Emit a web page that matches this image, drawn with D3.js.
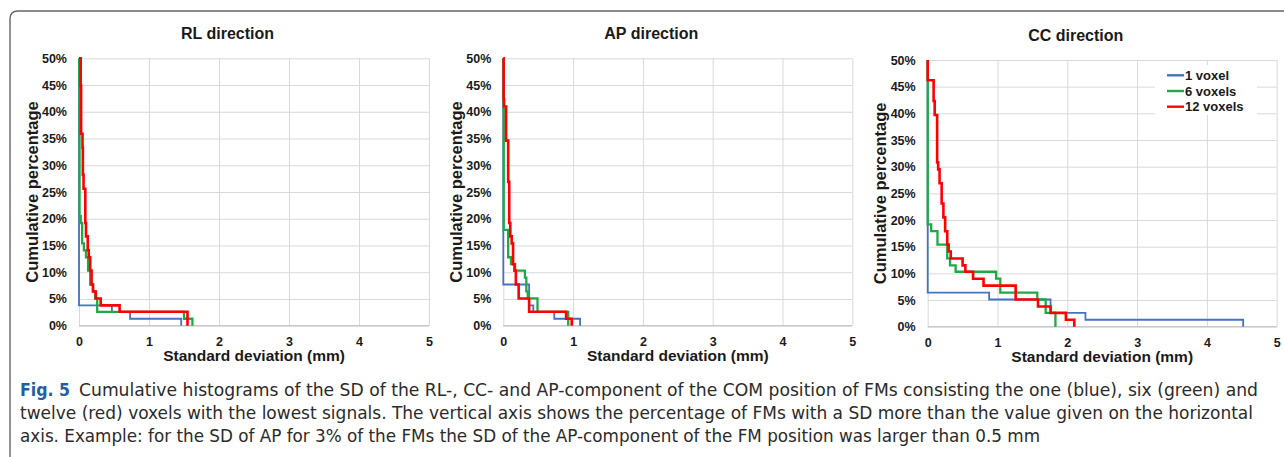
<!DOCTYPE html>
<html>
<head>
<meta charset="utf-8">
<script src="https://cdn.jsdelivr.net/npm/d3@7"></script>
<style>
  body { margin: 0; background: #fff; }
  svg { display: block; font-family: "Liberation Sans", Arial, sans-serif; }
  .tick text { font-family: "Liberation Sans", Arial, sans-serif; font-weight: bold; font-size: 12.5px; fill: #1a1a1a; }
  .tick line { stroke: #d9d9d9; }
  .caption { font-family: "DejaVu Sans Condensed", "DejaVu Sans", sans-serif; font-stretch: condensed; font-size: 17px; fill: #2b2b2b; }
</style>
</head>
<body>
<svg id="fig" width="1284" height="457"></svg>
<script>
// Part 1: data
// ==============================
var panelTitles = ["RL direction", "AP direction", "CC direction"];
var seriesNames = ["1 voxel", "6 voxels", "12 voxels"];
var xTicks = [0, 1, 2, 3, 4, 5];
var yTicks = [0, 5, 10, 15, 20, 25, 30, 35, 40, 45, 50];

// each point: [SD (mm), % of FMs above that SD] -> step drops at SD
var rlBlue  = [[0,50],[0,3.8],[0.47,2.6],[0.73,1.3],[1.46,0]];
var rlGreen = [[0,50],[0.004,44.9],[0.008,20.5],[0.025,19.2],[0.045,15.4],[0.07,14.1],[0.1,12.8],
               [0.13,10.3],[0.16,7.7],[0.2,6.4],[0.23,5.1],[0.26,2.6],[1.5,1.3],[1.62,0]];
var rlRed   = [[0,50],[0.024,44.9],[0.03,35.9],[0.05,33.3],[0.055,28.2],[0.065,25.6],[0.09,19.2],
               [0.1,16.7],[0.125,14.1],[0.14,12.8],[0.16,10.3],[0.18,7.7],[0.2,6.4],[0.24,5.1],
               [0.31,3.8],[0.58,2.6],[1.55,0]];

var apBlue  = [[0,50],[0,7.7],[0.37,3.8],[0.43,2.6],[0.73,1.3],[1.1,0]];
var apGreen = [[0,50],[0.003,40.5],[0.006,17.9],[0.07,12.8],[0.11,11.5],[0.17,10.3],[0.31,9],
               [0.33,6.4],[0.35,5.1],[0.49,2.6],[0.93,0]];
var apRed   = [[0,50],[0.005,42.3],[0.01,41],[0.04,34.6],[0.07,26.9],[0.085,19.2],[0.1,16.7],
               [0.12,15.4],[0.14,11.5],[0.16,10.3],[0.18,7.7],[0.22,5.1],[0.37,2.6],[0.9,1.3],[0.98,0]];

var ccBlue  = [[0,50],[0,6.4],[0.88,5.1],[1.76,2.6],[2.26,1.3],[4.52,0]];
var ccGreen = [[0,50],[0,19.2],[0.05,17.9],[0.14,15.4],[0.28,12.8],[0.32,11.5],[0.4,10.3],
               [0.98,9],[1.04,6.4],[1.57,5.1],[1.69,2.6],[1.83,0]];
var ccRed   = [[0,50],[0,46.2],[0.085,42.3],[0.1,39.7],[0.135,30.8],[0.15,29.5],[0.17,26.9],
               [0.2,23.1],[0.225,20.5],[0.25,17.9],[0.28,15.4],[0.3,14.1],[0.33,12.8],[0.5,11.5],
               [0.54,10.3],[0.65,9],[0.8,7.7],[1.26,5.1],[1.58,3.8],[1.76,2.6],[1.98,1.3],[2.1,0]];

var captionLines = [
  "Cumulative histograms of the SD of the RL-, CC- and AP-component of the COM position of FMs consisting the one (blue), six (green) and",
  "twelve (red) voxels with the lowest signals. The vertical axis shows the percentage of FMs with a SD more than the value given on the horizontal",
  "axis. Example: for the SD of AP for 3% of the FMs the SD of the AP-component of the FM position was larger than 0.5 mm"
];

// Part 2: layout
// ==============================
var colors = ["#4472c4", "#1fa844", "#ff0000"];
var widths = [1.8, 2.3, 2.6];
var panels = [
  { title: panelTitles[0], series: [rlBlue, rlGreen, rlRed], x0: 79,    x1: 429,    top: 58.3, bot: 325.7 },
  { title: panelTitles[1], series: [apBlue, apGreen, apRed], x0: 503.3, x1: 852.3,  top: 58.3, bot: 325.7 },
  { title: panelTitles[2], series: [ccBlue, ccGreen, ccRed], x0: 927.7, x1: 1276.7, top: 60,   bot: 326.7 }
];

var svg = d3.select("#fig");

// figure frame with rounded corner
svg.append("path")
  .attr("d", "M10,457 L10,19 Q10,11 18,11 L1284,11")
  .attr("fill", "none")
  .attr("stroke", "#666")
  .attr("stroke-width", 1.4);

// Part 3: panels
// ==============================
panels.forEach(function(p, pi) {
  var x = d3.scaleLinear().domain([0, 5]).range([p.x0, p.x1]);
  var y = d3.scaleLinear().domain([0, 50]).range([p.bot, p.top]);
  var g = svg.append("g");

  // grid + y labels
  var yAxis = g.append("g")
    .attr("transform", `translate(${p.x0},0)`)
    .call(d3.axisLeft(y).tickValues(yTicks).tickFormat(d => d + "%")
      .tickSize(-(p.x1 - p.x0)).tickPadding(12));
  yAxis.select(".domain").remove();

  var xAxis = g.append("g")
    .attr("transform", `translate(0,${p.bot})`)
    .call(d3.axisBottom(x).tickValues(xTicks).tickFormat(d3.format("d"))
      .tickSize(-(p.bot - p.top)).tickPadding(11));
  xAxis.select(".domain").remove();

  // baseline
  g.append("line")
    .attr("x1", p.x0).attr("x2", p.x1)
    .attr("y1", y(0)).attr("y2", y(0))
    .attr("stroke", "#bfbfbf");

  // titles
  g.append("text")
    .attr("x", (p.x0 + p.x1) / 2 - 26.5)
    .attr("y", p.top - 19.5)
    .attr("text-anchor", "middle")
    .style("font-size", "16px").style("font-weight", "bold").attr("fill", "#1a1a1a")
    .text(p.title);

  g.append("text")
    .attr("x", (p.x0 + p.x1) / 2)
    .attr("y", p.bot + 35)
    .attr("text-anchor", "middle")
    .style("font-size", "15.5px").style("font-weight", "bold").attr("fill", "#1a1a1a")
    .text("Standard deviation (mm)");

  g.append("text")
    .attr("transform", `translate(${p.x0 - 47},${(p.top + p.bot) / 2}) rotate(-90)`)
    .attr("text-anchor", "middle")
    .attr("dy", "0.35em")
    .style("font-size", "16.5px").style("font-weight", "bold").attr("fill", "#1a1a1a")
    .text("Cumulative percentage");

  // step lines
  var line = d3.line()
    .x(d => x(d[0]))
    .y(d => y(d[1]))
    .curve(d3.curveStepAfter);

  p.series.forEach(function(s, si) {
    g.append("path")
      .datum(s)
      .attr("d", line)
      .attr("fill", "none")
      .attr("stroke", colors[si])
      .attr("stroke-width", widths[si])
      .attr("stroke-linejoin", "miter");
  });

  // legend only in CC panel
  if (pi === 2) {
    var lg = g.append("g");
    lg.append("rect")
      .attr("x", 1155).attr("y", 65).attr("width", 102).attr("height", 50)
      .attr("fill", "#fff");
    seriesNames.forEach(function(name, i) {
      var ly = 75.3 + i * 15.7;
      lg.append("line")
        .attr("x1", 1167).attr("x2", 1184).attr("y1", ly).attr("y2", ly)
        .attr("stroke", colors[i]).attr("stroke-width", 2.4);
      lg.append("text")
        .attr("x", 1185).attr("y", ly).attr("dy", "0.36em")
        .style("font-size", "13px").style("font-weight", "bold").attr("fill", "#1a1a1a")
        .text(name);
    });
  }
});

// Part 4: caption
// ==============================
var cap = svg.append("g");
cap.append("text")
  .attr("class", "caption")
  .attr("x", 20).attr("y", 396)
  .style("font-weight", "bold").style("fill", "#1f5fa6")
  .attr("textLength", 50).attr("lengthAdjust", "spacingAndGlyphs")
  .text("Fig. 5");
var capX = [79, 20, 20];
var capEnd = [1258, 1253, 1040];
captionLines.forEach(function(t, i) {
  cap.append("text")
    .attr("class", "caption")
    .attr("x", capX[i]).attr("y", 396 + i * 23)
    .attr("textLength", capEnd[i] - capX[i])
    .attr("lengthAdjust", "spacingAndGlyphs")
    .text(t);
});
</script>
</body>
</html>
